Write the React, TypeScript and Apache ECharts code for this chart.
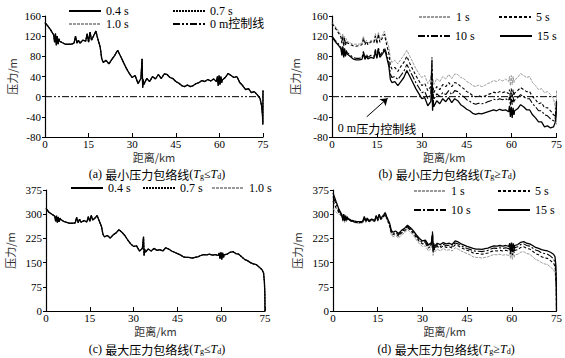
import React, { useEffect, useRef } from "react";
import * as echarts from "echarts";

// distance grid (km) shared by all envelope curves
const KM = [0, 1, 2, 3, 3.3, 3.6, 3.9, 4.2, 4.5, 4.8, 5, 6, 7, 8, 9, 10, 10.5, 11, 11.5, 12, 13, 14, 14.5, 15, 15.5, 16, 17, 17.5, 18, 19, 19.5, 20,
  21, 22, 23, 24, 25, 26, 27, 28, 29, 30, 31, 32, 33, 33.4, 33.6, 33.8, 34, 35, 36, 37, 38, 39, 40, 41, 42, 43, 44, 45, 46, 47, 48, 49, 50,
  51, 52, 53, 54, 55, 56, 57, 58, 59, 59.3, 59.6, 59.9, 60.2, 60.5, 60.8, 61, 62, 63, 64, 65, 66, 67, 68, 69, 70, 71, 72, 73, 74, 74.5, 74.8, 74.95, 75];

// minimum pressure envelope (m)
const MIN_1S = [147, 140, 132, 122, 108, 125, 102, 120, 104, 115, 110, 107, 104, 104, 104, 106, 120, 106, 112, 106, 112, 110, 125, 108, 128, 112, 124, 130, 118, 98, 76, 68,
  72, 65, 74, 82, 92, 80, 68, 56, 46, 38, 42, 26, 36, 75, 18, 34, 24, 36, 30, 40, 35, 44, 36, 45, 44, 38, 36, 30, 27, 22, 20, 23, 20,
  22, 26, 28, 32, 30, 34, 31, 35, 30, 40, 22, 42, 24, 40, 28, 33, 38, 46, 42, 38, 40, 28, 22, 14, 16, 8, 10, 4, -4, -18, -35, -55, 12];
const MIN_5S = [145, 137, 128, 118, 106, 120, 100, 116, 102, 110, 107, 104, 101, 100, 101, 103, 116, 103, 110, 103, 109, 107, 120, 105, 124, 108, 118, 124, 110, 85, 62, 55,
  58, 50, 60, 68, 80, 66, 54, 42, 32, 22, 26, 12, 20, 60, 2, 18, 8, 20, 14, 24, 20, 28, 20, 28, 26, 20, 16, 10, 7, 2, 0, 2, 0,
  1, 4, 6, 9, 7, 10, 8, 10, 6, 14, -4, 16, -2, 14, 2, 7, 12, 18, 14, 10, 10, 0, -6, -14, -12, -22, -22, -28, -36, -38, -30, -20, -5];
const MIN_10S = [120, 112, 106, 98, 86, 100, 82, 96, 84, 92, 88, 83, 78, 76, 76, 77, 90, 77, 84, 78, 82, 80, 94, 79, 98, 82, 90, 97, 90, 68, 45, 38,
  40, 34, 42, 50, 64, 52, 40, 28, 18, 8, 10, -4, 4, 78, -14, 6, -6, 6, 0, 8, 4, 12, 4, 12, 10, 4, 0, -6, -9, -13, -15, -13, -14,
  -13, -10, -8, -5, -7, -4, -6, -4, -8, 0, -18, 2, -16, 0, -12, -7, -2, 4, 0, -4, -4, -14, -20, -28, -28, -36, -38, -44, -48, -44, -34, -22, -8];
const MIN_15S = [118, 110, 103, 95, 82, 98, 78, 94, 80, 90, 85, 80, 75, 73, 73, 74, 86, 74, 80, 75, 78, 76, 90, 76, 94, 78, 86, 93, 85, 60, 34, 28,
  30, 22, 30, 38, 52, 40, 28, 16, 6, -4, -2, -18, -10, 28, -28, -6, -20, -8, -14, -4, -10, -2, -12, -4, -8, -16, -20, -25, -28, -33, -35, -33, -34,
  -32, -30, -28, -26, -28, -25, -27, -26, -30, -18, -40, -20, -42, -22, -36, -28, -24, -16, -20, -26, -26, -36, -42, -50, -50, -60, -58, -62, -60, -52, -40, -25, -10];

// maximum pressure envelope (m)
const MAX_1S = [318, 306, 300, 294, 278, 295, 274, 292, 276, 288, 284, 278, 275, 272, 272, 273, 290, 274, 284, 275, 280, 276, 292, 278, 296, 282, 290, 296, 284, 262, 238, 230,
  234, 226, 236, 242, 252, 244, 234, 220, 208, 200, 202, 186, 194, 230, 172, 192, 182, 192, 186, 194, 188, 190, 186, 196, 192, 186, 182, 178, 174, 168, 166, 166, 164,
  166, 168, 172, 175, 174, 176, 173, 175, 172, 180, 162, 182, 160, 180, 166, 174, 176, 182, 184, 178, 176, 168, 160, 156, 150, 146, 144, 136, 128, 118, 90, 50, 0];
const MAX_5S = [340, 320, 305, 294, 280, 296, 276, 292, 278, 288, 284, 279, 276, 274, 274, 275, 290, 276, 285, 277, 282, 278, 293, 280, 297, 284, 293, 300, 288, 266, 244, 236,
  240, 232, 242, 248, 258, 250, 240, 227, 215, 208, 210, 195, 202, 236, 182, 200, 190, 200, 195, 202, 197, 199, 195, 205, 202, 196, 192, 188, 185, 180, 178, 178, 176,
  178, 180, 184, 187, 186, 188, 186, 188, 185, 194, 176, 196, 174, 194, 180, 188, 190, 197, 199, 194, 192, 185, 178, 174, 168, 165, 163, 156, 148, 138, 110, 60, 0];
const MAX_10S = [355, 332, 310, 296, 282, 298, 278, 294, 280, 290, 285, 280, 277, 275, 275, 276, 291, 277, 286, 278, 283, 279, 294, 281, 298, 285, 295, 302, 290, 268, 248, 240,
  244, 236, 246, 252, 262, 254, 244, 232, 220, 212, 215, 200, 206, 248, 186, 204, 194, 205, 200, 207, 202, 204, 200, 211, 208, 202, 198, 194, 191, 187, 185, 185, 184,
  186, 188, 192, 195, 194, 196, 194, 196, 193, 202, 184, 204, 182, 202, 188, 196, 199, 206, 208, 203, 201, 195, 189, 186, 180, 178, 176, 170, 162, 150, 120, 65, 0];
const MAX_15S = [366, 340, 315, 298, 284, 300, 280, 296, 282, 292, 287, 282, 279, 277, 277, 278, 293, 279, 288, 280, 285, 281, 296, 283, 300, 287, 298, 305, 293, 272, 252, 244,
  248, 240, 250, 256, 266, 258, 248, 236, 225, 217, 220, 205, 211, 240, 190, 210, 200, 210, 206, 212, 208, 210, 206, 217, 214, 208, 204, 200, 197, 194, 192, 192, 191,
  193, 195, 199, 202, 201, 203, 201, 203, 200, 210, 190, 212, 188, 210, 194, 203, 206, 213, 215, 210, 208, 203, 197, 194, 190, 188, 186, 182, 176, 168, 140, 80, 0];

// 0 m pressure control line
const ZERO_X = [0, 75];
const ZERO_Y = [0, 0];

// axis ticks
const X_TICKS = { min: 0, max: 75, interval: 15 };
const Y_MIN_TICKS = { min: -80, max: 160, interval: 40 };
const Y_MAX_TICKS = { min: 0, max: 375, interval: 75 };

const SERIF = "'Liberation Serif', 'Times New Roman', 'Noto Sans CJK SC', serif";
const CJK = "'Noto Sans CJK SC', 'Liberation Serif', sans-serif";

const STYLES: Record<string, any> = {
  "0.4 s": { color: "#000", width: 1.3, type: "solid" },
  "0.7 s": { color: "#000", width: 1.2, type: [2, 1] },
  "1.0 s": { color: "#9a9a9a", width: 1, type: [3, 1] },
  "0 m控制线": { color: "#000", width: 1, type: [7, 2, 2, 2, 2, 2] },
  "1 s": { color: "#9a9a9a", width: 1, type: [3, 1] },
  "5 s": { color: "#000", width: 1.1, type: [3, 2] },
  "10 s": { color: "#000", width: 1.1, type: [7, 2, 2, 2] },
  "15 s": { color: "#000", width: 1.3, type: "solid" },
};

function line(name: string, idx: number, ys: number[], xs: number[] = KM, extra: any = {}) {
  const ls = STYLES[name] || { color: "#000", width: 1, type: [7, 2, 2, 2] };
  return {
    type: "line",
    name,
    xAxisIndex: idx,
    yAxisIndex: idx,
    data: xs.map((x, i) => [x, ys[i]]),
    symbol: "none",
    showSymbol: false,
    silent: true,
    color: ls.color,
    itemStyle: { color: ls.color },
    lineStyle: ls,
    ...extra,
  };
}

const GRIDS = [
  { left: 45, top: 16, width: 218, height: 121 },
  { left: 332, top: 16, width: 226, height: 121 },
  { left: 46, top: 190, width: 219, height: 121 },
  { left: 333, top: 190, width: 225, height: 121 },
];

function xAxis(idx: number) {
  return {
    type: "value",
    gridIndex: idx,
    ...X_TICKS,
    name: "距离/km",
    nameLocation: "middle",
    nameGap: 14,
    nameTextStyle: { fontFamily: CJK, fontSize: 11, color: "#333", lineHeight: 11 },
    axisLine: { onZero: false, lineStyle: { color: "#000", width: 1.2 } },
    axisTick: { inside: true, length: 4, lineStyle: { color: "#000" } },
    axisLabel: { fontFamily: SERIF, fontSize: 11, color: "#000", margin: 2, lineHeight: 10 },
    splitLine: { show: false },
  };
}

function yAxis(idx: number, ticks: any, gap: number) {
  return {
    type: "value",
    gridIndex: idx,
    ...ticks,
    name: "压力/m",
    nameLocation: "middle",
    nameRotate: 90,
    nameGap: gap,
    nameTextStyle: { fontFamily: CJK, fontSize: 11, color: "#333", lineHeight: 12 },
    axisLine: { show: true, lineStyle: { color: "#000", width: 1.2 } },
    axisTick: { show: true, inside: false, length: 3, lineStyle: { color: "#000" } },
    axisLabel: { fontFamily: SERIF, fontSize: 11, color: "#000", margin: 4, lineHeight: 11 },
    splitLine: { show: false },
  };
}

function legend(name: string, left: number, top: number) {
  return {
    data: [name],
    left,
    top,
    padding: 0,
    itemWidth: 32,
    itemHeight: 8,
    selectedMode: false,
    itemStyle: { color: "rgba(0,0,0,0)", borderWidth: 0, opacity: 0 },
    textStyle: { fontFamily: SERIF, fontSize: 12, color: "#000", padding: [1, 0, 0, 0] },
  };
}

const rich = {
  n: { fontFamily: CJK, fontSize: 12, color: "#222", lineHeight: 12 },
  r: { fontFamily: SERIF, fontSize: 12, color: "#000", lineHeight: 12 },
  i: { fontFamily: SERIF, fontSize: 12, fontStyle: "italic", color: "#000", lineHeight: 12 },
  s: { fontFamily: SERIF, fontSize: 8, color: "#000", lineHeight: 8, verticalAlign: "bottom", padding: [4, 0, 0, 0] },
};

function caption(letter: string, kind: string, rel: string, x: number, y: number) {
  return {
    type: "text",
    x,
    y,
    silent: true,
    style: {
      text: `{r|(${letter})} {n|${kind}压力包络线}{r|(}{i|T}{s|g}{r|${rel}}{i|T}{s|d}{r|)}`,
      rich,
      textAlign: "center",
      textVerticalAlign: "middle",
    },
  };
}

export default function App() {
  const ref = useRef<HTMLDivElement>(null);
  useEffect(() => {
    if (!ref.current) return;
    const chart = echarts.init(ref.current, undefined, { renderer: "svg" });
    chart.setOption({
      animation: false,
      backgroundColor: "#fff",
      grid: GRIDS,
      xAxis: [0, 1, 2, 3].map(xAxis),
      yAxis: [yAxis(0, Y_MIN_TICKS, 27), yAxis(1, Y_MIN_TICKS, 31), yAxis(2, Y_MAX_TICKS, 30), yAxis(3, Y_MAX_TICKS, 30)],
      legend: [
        legend("0.4 s", 68, 5),
        legend("0.7 s", 172, 5),
        legend("1.0 s", 68, 18),
        legend("0 m控制线", 172, 18),
        legend("1 s", 418, 11),
        legend("5 s", 498, 11),
        legend("10 s", 417, 30),
        legend("15 s", 499, 30),
        legend("0.4 s", 70, 182),
        legend("0.7 s", 142, 182),
        legend("1.0 s", 211, 182),
        legend("1 s", 413, 185),
        legend("5 s", 497, 185),
        legend("10 s", 413, 204),
        legend("15 s", 497, 204),
      ],
      series: [
        // (a)
        line("0 m控制线", 0, ZERO_Y, ZERO_X),
        line("1.0 s", 0, MIN_1S),
        line("0.7 s", 0, MIN_1S),
        line("0.4 s", 0, MIN_1S),
        // (b)
        line("0 m压力控制线", 1, ZERO_Y, ZERO_X, {
          markLine: {
            silent: true,
            symbol: ["none", "arrow"],
            symbolSize: 7,
            label: { show: false },
            lineStyle: { color: "#000", width: 1, type: "solid" },
            data: [[{ coord: [11.6, -40] }, { coord: [18.6, -3] }]],
          },
        }),
        line("1 s", 1, MIN_1S),
        line("5 s", 1, MIN_5S),
        line("10 s", 1, MIN_10S),
        line("15 s", 1, MIN_15S),
        // (c)
        line("1.0 s", 2, MAX_1S),
        line("0.7 s", 2, MAX_1S),
        line("0.4 s", 2, MAX_1S),
        // (d)
        line("1 s", 3, MAX_1S),
        line("5 s", 3, MAX_5S),
        line("10 s", 3, MAX_10S),
        line("15 s", 3, MAX_15S),
      ],
      graphic: [
        {
          type: "text",
          x: 377,
          y: 128,
          silent: true,
          style: {
            text: "{r|0 m}{n|压力控制线}",
            rich,
            textAlign: "center",
            textVerticalAlign: "middle",
          },
        },
        caption("a", "最小", "≤", 157, 174),
        caption("b", "最小", "≥", 447, 174),
        caption("c", "最大", "≤", 157, 349),
        caption("d", "最大", "≥", 446, 349),
      ],
    });
    return () => chart.dispose();
  }, []);
  return (
    <div
      ref={ref}
      style={{ position: "absolute", left: 0, top: 0, width: 565, height: 358, background: "#fff" }}
    />
  );
}
